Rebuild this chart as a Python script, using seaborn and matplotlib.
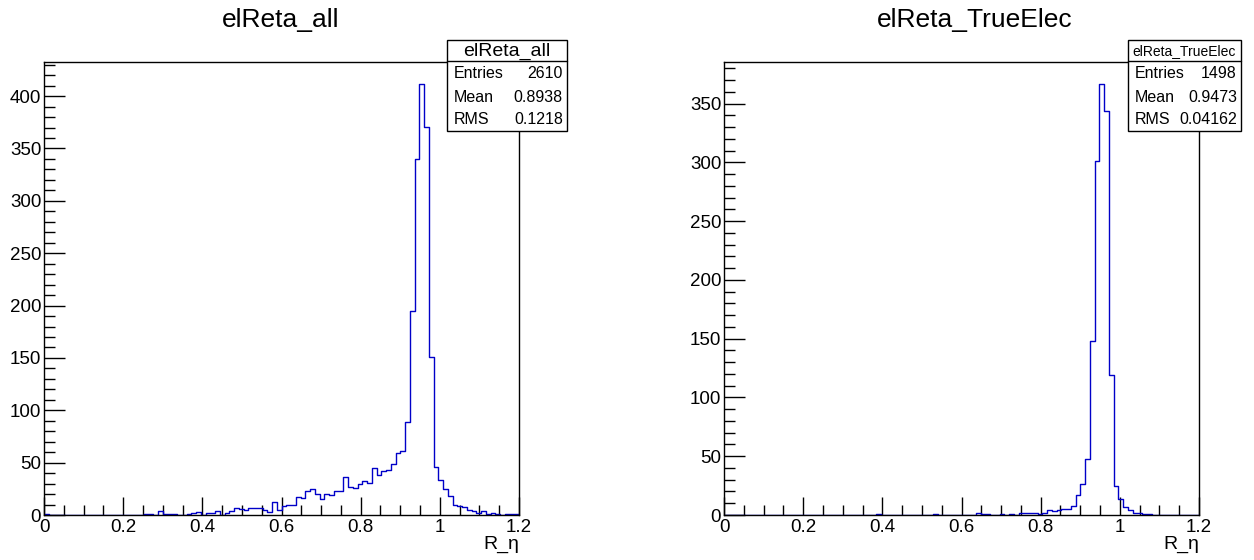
import numpy as np
import pandas as pd
import seaborn as sns
import matplotlib.pyplot as plt
from matplotlib.patches import Rectangle
from matplotlib.ticker import MultipleLocator, FuncFormatter

# 100 bins from 0 to 1.2, counts
bin_lo, bin_hi, n_bins = 0.0, 1.2, 100

counts_all = [
    1, 0, 0, 0, 0, 0, 0, 0, 0, 0,
    0, 0, 0, 0, 0, 0, 0, 0, 0, 0,
    0, 1, 1, 0, 4, 1, 1, 1, 0, 0,
    1, 2, 3, 0, 2, 2, 4, 0, 2, 4,
    7, 6, 5, 7, 7, 7, 5, 3, 12, 5,
    9, 10, 10, 17, 16, 23, 25, 20, 15, 20,
    19, 23, 23, 36, 27, 26, 30, 32, 31, 45,
    38, 42, 43, 49, 59, 61, 89, 195, 340, 412,
    371, 151, 46, 33, 25, 18, 10, 9, 8, 5,
    4, 2, 4, 1, 2, 1, 0, 1, 1, 1,
]
counts_true = [
    0, 0, 0, 0, 0, 0, 0, 0, 0, 0,
    0, 0, 0, 0, 0, 0, 0, 0, 0, 0,
    0, 0, 0, 0, 0, 0, 0, 0, 0, 0,
    0, 0, 1, 0, 0, 0, 0, 0, 0, 0,
    0, 0, 0, 0, 1, 0, 0, 0, 0, 0,
    0, 0, 0, 2, 1, 1, 0, 0, 1, 0,
    1, 0, 2, 2, 2, 2, 1, 2, 4, 3,
    4, 5, 5, 8, 17, 26, 48, 148, 301, 367,
    344, 119, 25, 14, 7, 4, 2, 2, 1, 1,
    0, 0, 0, 0, 0, 0, 0, 0, 0, 0,
]

titles = ["elReta_all", "elReta_TrueElec"]
stat_names = ["Entries", "Mean", "RMS"]
stats_all = ["2610", "0.8938", "0.1218"]
stats_true = ["1498", "0.9473", "0.04162"]

edges = np.linspace(bin_lo, bin_hi, n_bins + 1)
centers = 0.5 * (edges[:-1] + edges[1:])
df = pd.concat([
    pd.DataFrame({"x": centers, "n": counts_all, "hist": titles[0]}),
    pd.DataFrame({"x": centers, "n": counts_true, "hist": titles[1]}),
])

sns.set_theme(style="white")
plt.rcParams["font.family"] = ["Liberation Sans", "DejaVu Sans"]
plt.rcParams["text.color"] = "black"
plt.rcParams["axes.labelcolor"] = "black"
plt.rcParams["xtick.color"] = "black"
plt.rcParams["ytick.color"] = "black"

W, H = 1254, 560
fig = plt.figure(figsize=(W / 100, H / 100), dpi=100)
fig.patch.set_facecolor("white")

panels = [
    # (axes left px, title centre px, stats box left/right px, box title size, stats)
    (44, 281, 447, 567, 14, stats_all),
    (724, 975, 1128, 1241, 10, stats_true),
]

for (x0, tx, bl, br, bts, stats), name in zip(panels, titles):
    ax = fig.add_axes([x0 / W, 1 - 515 / H, 475 / W, 453 / H])
    sub = df[df["hist"] == name]
    sns.histplot(
        data=sub, x="x", weights="n", bins=n_bins, binrange=(bin_lo, bin_hi),
        element="step", fill=False, color="#0000c8", linewidth=1.0, ax=ax,
    )
    ax.set_xlim(bin_lo, bin_hi)
    ax.set_ylim(0, sub["n"].max() * 1.05)
    ax.set_ylabel("")
    ax.set_xlabel("R_η", loc="right", fontsize=14, labelpad=0)
    ax.xaxis.set_major_locator(MultipleLocator(0.2))
    ax.xaxis.set_minor_locator(MultipleLocator(0.05))
    ax.yaxis.set_major_locator(MultipleLocator(50))
    ax.yaxis.set_minor_locator(MultipleLocator(10))
    ax.xaxis.set_major_formatter(FuncFormatter(lambda v, p: f"{v:g}"))
    ax.tick_params(which="major", direction="in", length=13, width=1,
                   labelsize=13.5, top=False, right=False, color="black",
                   left=True, bottom=True, pad=3)
    ax.tick_params(axis="y", which="major", length=15, pad=2)
    ax.tick_params(which="minor", direction="in", length=7, width=1,
                   top=False, right=False, left=True, bottom=True, color="black")
    ax.tick_params(axis="y", which="minor", length=8)
    for s in ax.spines.values():
        s.set_color("black")
        s.set_linewidth(1)

    fig.text(tx / W, 1 - 20 / H, name, ha="center", va="center", fontsize=19)

    # stats box
    box = Rectangle((bl / W, 1 - 131 / H), (br - bl) / W, 91 / H,
                    transform=fig.transFigure, facecolor="white",
                    edgecolor="black", linewidth=1, zorder=5)
    fig.add_artist(box)
    fig.add_artist(plt.Line2D([bl / W, br / W], [1 - 61 / H, 1 - 61 / H],
                              transform=fig.transFigure, color="black",
                              linewidth=1, zorder=6))
    fig.text((bl + br) / 2 / W, 1 - 51 / H, name, ha="center", va="center",
             fontsize=bts, zorder=7)
    for k, (lab, val) in enumerate(zip(stat_names, stats)):
        yy = 1 - (74 + 23 * k) / H
        fig.text((bl + 7) / W, yy, lab, ha="left", va="center",
                 fontsize=11.5, zorder=7)
        fig.text((br - 4) / W, yy, val, ha="right", va="center",
                 fontsize=11.5, zorder=7)

fig.savefig("out.png", dpi=100, facecolor="white")
